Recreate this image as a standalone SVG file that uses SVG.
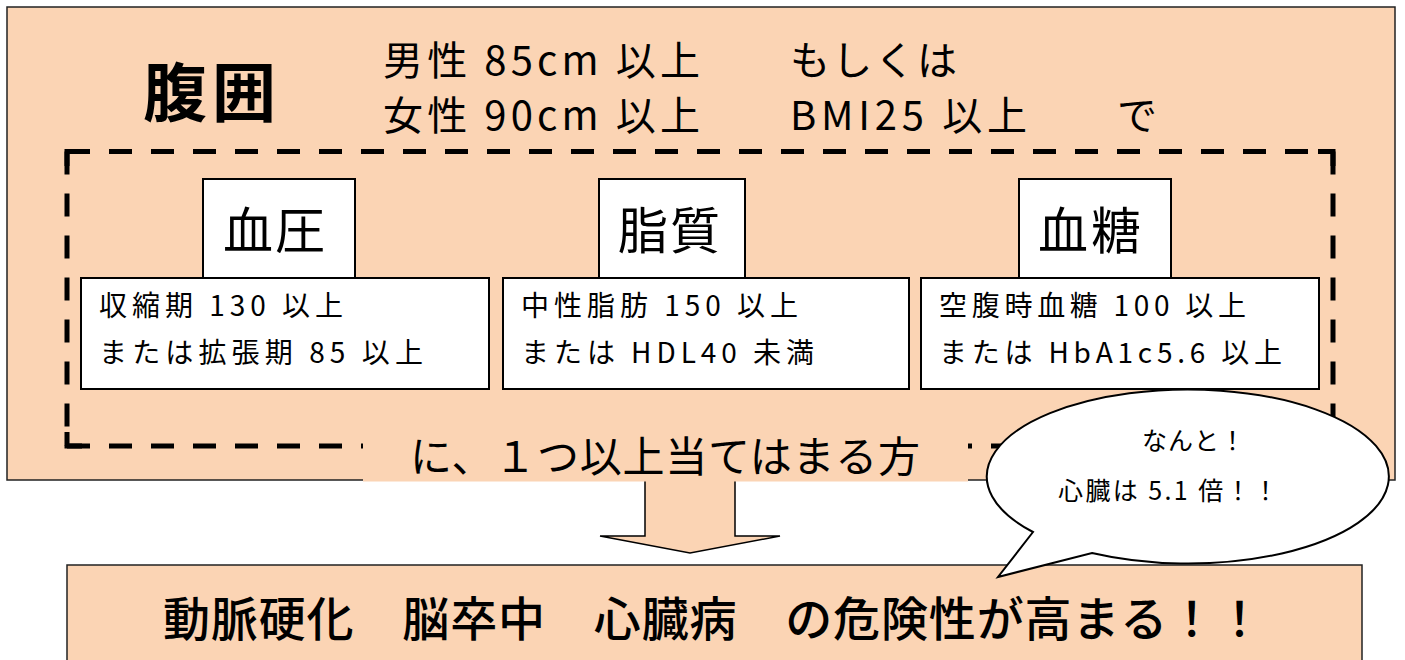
<svg xmlns="http://www.w3.org/2000/svg" width="1405" height="660" viewBox="0 0 1405 660">
<style>
  text { font-family: "Noto Sans CJK JP", "Noto Sans", sans-serif; fill: #000; }
  .peach { fill: #FBD4B4; }
  .box { fill: #fff; stroke: #000; stroke-width: 2; }
  .dash { fill: none; stroke: #000; stroke-width: 5; stroke-dasharray: 23 19; }
  .corner { fill: none; stroke: #000; stroke-width: 5; }
  .hdr { font-size: 50px; font-weight: 400; }
  .cnt { font-size: 28px; font-weight: 400; }
  .mid { font-size: 40px; font-weight: 400; }
</style>

<g id="outer">
  <rect x="7" y="7" width="1388" height="473" class="peach" stroke="#222" stroke-width="1.5"/>
  <text x="143" y="116" font-size="64" font-weight="700" textLength="133">腹囲</text>
  <text x="383" y="75" class="mid" textLength="317">男性 85cm 以上</text>
  <text x="790" y="75" class="mid" textLength="167">もしくは</text>
  <text x="383" y="130" class="mid" textLength="317">女性 90cm 以上</text>
  <text x="790" y="130" class="mid" textLength="237">BMI25 以上</text>
  <text x="1117" y="130" class="mid">で</text>
</g>

<g id="dashed-frame">
  <path class="dash" d="M67 151.5 H1333"/>
  <path class="dash" d="M67 151.5 V446"/>
  <path class="dash" d="M1333 151.5 V446"/>
  <path class="dash" d="M67 446 H1333"/>
  <path class="corner" d="M67 166 V151.5 H82"/>
  <path class="corner" d="M1318 151.5 H1333 V166"/>
  <path class="corner" d="M67 432 V446 H82"/>
</g>

<g id="node-ketsuatsu">
  <rect x="203" y="179" width="152" height="99" class="box"/>
  <text x="223" y="249" class="hdr" textLength="102">血圧</text>
  <rect x="81" y="278" width="408" height="111" class="box"/>
  <text x="99" y="316" class="cnt" textLength="244">収縮期 130 以上</text>
  <text x="99" y="363" class="cnt" textLength="324">または拡張期 85 以上</text>
</g>

<g id="node-shishitsu">
  <rect x="599" y="179" width="146" height="99" class="box"/>
  <text x="618" y="249" class="hdr" textLength="102">脂質</text>
  <rect x="503" y="278" width="406" height="111" class="box"/>
  <text x="521" y="316" class="cnt" textLength="277">中性脂肪 150 以上</text>
  <text x="521" y="363" class="cnt" textLength="293">または HDL40 未満</text>
</g>

<g id="node-kettou">
  <rect x="1019" y="179" width="152" height="99" class="box"/>
  <text x="1038" y="249" class="hdr" textLength="103">血糖</text>
  <rect x="921" y="278" width="398" height="111" class="box"/>
  <text x="939" y="316" class="cnt" textLength="307">空腹時血糖 100 以上</text>
  <text x="939" y="363" class="cnt" textLength="343">または HbA1c5.6 以上</text>
</g>

<g id="connectors">
  <polygon points="645,476 735,476 735,536 780,536 690,553 600,536 645,536" class="peach" stroke="#000" stroke-width="1.5"/>
</g>

<g id="node-condition">
  <rect x="363" y="428" width="605" height="53.5" class="peach"/>
  <text x="410" y="472" font-size="42" font-weight="400" textLength="510">に、１つ以上当てはまる方</text>
</g>

<g id="node-result">
  <rect x="67" y="565" width="1295" height="110" class="peach" stroke="#222" stroke-width="1.5"/>
  <text x="163" y="636" font-size="47" font-weight="500" textLength="1100">動脈硬化　脳卒中　心臓病　の危険性が高まる！！</text>
</g>

<g id="node-bubble">
  <path d="M1033 532 L998 577 L1092 553 A201 87 0 1 0 1033 532 Z" fill="#fff" stroke="#000" stroke-width="2"/>
  <text x="1142" y="450" font-size="25" font-weight="400" textLength="103">なんと！</text>
  <text x="1058" y="500" font-size="25" font-weight="400" textLength="220">心臓は 5.1 倍！！</text>
</g>
</svg>
